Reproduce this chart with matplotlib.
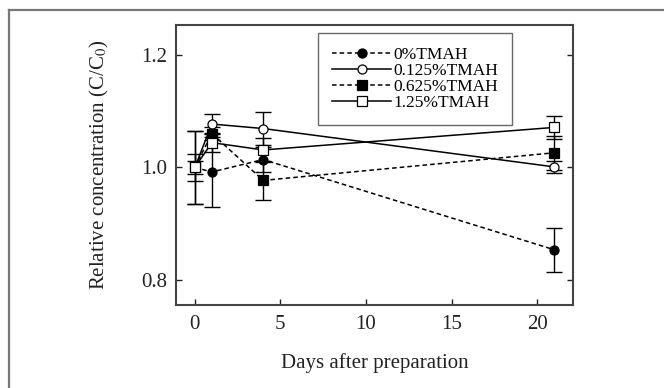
import numpy as np
import matplotlib
matplotlib.use("Agg")
import matplotlib.pyplot as plt
from matplotlib.lines import Line2D

plt.rcParams['font.family'] = ['Liberation Serif', 'DejaVu Serif']
plt.rcParams['mathtext.fontset'] = 'stix'

days = [0, 1, 4, 21]
labels = ['0%TMAH', '0.125%TMAH', '0.625%TMAH', '1.25%TMAH']

# relative concentration C/C0 and error bars
c_0 = [1.000, 0.992, 1.014, 0.854]
e_0 = [0.064, 0.062, 0.022, 0.039]
c_0125 = [1.000, 1.077, 1.069, 1.001]
e_0125 = [0.011, 0.017, 0.030, 0.010]
c_0625 = [1.000, 1.060, 0.977, 1.026]
e_0625 = [0.024, 0.012, 0.035, 0.030]
c_125 = [1.000, 1.044, 1.031, 1.071]
e_125 = [0.065, 0.017, 0.022, 0.020]

series = [
    (c_0, e_0, 'o', 'k', (0, (3, 2))),
    (c_0125, e_0125, 'o', 'w', '-'),
    (c_0625, e_0625, 's', 'k', (0, (3, 2))),
    (c_125, e_125, 's', 'w', '-'),
]

fig = plt.figure(figsize=(6.64, 3.88), dpi=100)
ax = fig.add_axes([0.265, 0.214, 0.598, 0.722])

# grey frame round the figure
fig.add_artist(Line2D([0.014, 0.014], [0.0, 0.974], transform=fig.transFigure,
                      color='#777777', lw=1.6))
fig.add_artist(Line2D([0.014, 1.0], [0.974, 0.974], transform=fig.transFigure,
                      color='#777777', lw=1.6))

handles = []
for (vals, errs, mk, fc, ls), lab in zip(series, labels):
    ax.errorbar(days, vals, yerr=errs, fmt='none', ecolor='k', elinewidth=1.0,
                capsize=5.5, capthick=1.0, zorder=2)
    ax.plot(days, vals, color='k', lw=1.1, linestyle=ls, zorder=3)
    ax.plot(days, vals, linestyle='none', marker=mk, markersize=6.5,
            markerfacecolor=fc, markeredgecolor='k', markeredgewidth=0.9, zorder=4)
    handles.append(Line2D([], [], color='k', lw=1.1, linestyle=ls, marker=mk,
                          markersize=6.5, markerfacecolor=fc, markeredgecolor='k',
                          markeredgewidth=0.9, label=lab))

ax.set_xlim(-1.1, 22.1)
ax.set_ylim(0.756, 1.253)
ax.set_xticks([0, 5, 10, 15, 20])
ax.set_yticks([0.8, 1.0, 1.2])
ax.yaxis.set_major_formatter(matplotlib.ticker.FormatStrFormatter('%.1f'))
ax.tick_params(axis='both', direction='in', length=4, width=1, labelsize=15,
               colors='#222222')
ax.tick_params(axis='y', right=True, pad=6)
ax.tick_params(axis='x', pad=7)
for s in ax.spines.values():
    s.set_linewidth(1.5)
    s.set_color('#444444')

ax.set_xlabel('Days after preparation', fontsize=15, labelpad=14, color='#222222')
ax.set_ylabel('Relative concentration (C/C$_0$)', fontsize=15, labelpad=22,
              color='#222222')

leg = ax.legend(handles=handles, loc='upper right', bbox_to_anchor=(0.846, 0.971),
                fontsize=12.5, frameon=True, fancybox=False, edgecolor='#444444',
                handlelength=3.4, labelspacing=0.0, borderpad=0.8,
                handletextpad=0.1, borderaxespad=0)
leg.get_frame().set_linewidth(1.0)

fig.savefig('out.png', dpi=100)
